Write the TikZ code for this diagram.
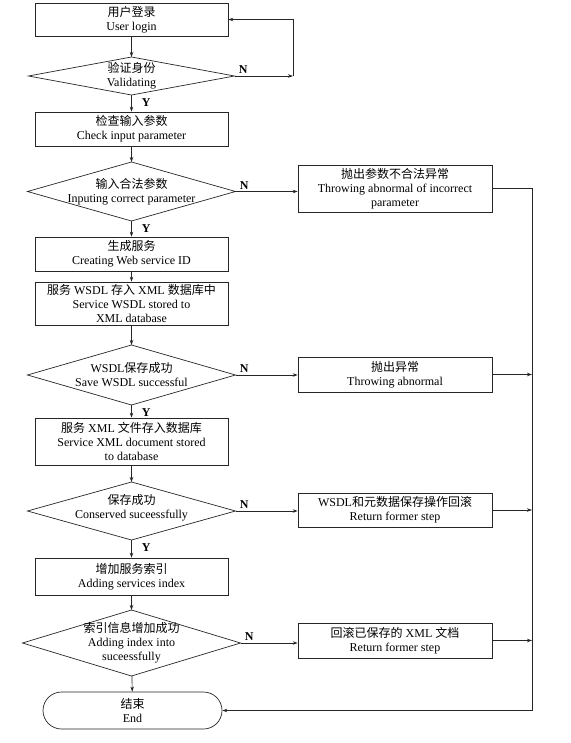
\documentclass[tikz,border=0pt]{standalone}
\usepackage{fontspec}
\setmainfont{Liberation Serif}
\newfontfamily\cjk{Noto Sans CJK SC}
\usetikzlibrary{shapes.geometric,shapes.misc,arrows.meta}
\begin{document}
\begin{tikzpicture}[x=1pt,y=-1pt,
  every node/.style={font=\fontsize{12}{14}\selectfont, text=black},
  ln/.style={draw=black!85, line width=0.7pt},
  arr/.style={ln, -{Stealth[length=5pt,width=3.5pt]}},
  proc/.style={ln, rectangle, align=center, inner sep=0pt, minimum width=193pt},
  sidebox/.style={ln, rectangle, align=center, inner sep=0pt, minimum width=194pt},
  dec/.style={ln, diamond, inner sep=0pt, outer sep=0pt},
  dtext/.style={align=center, inner sep=0pt, draw=none},
  yn/.style={font=\fontsize{12}{14}\selectfont\bfseries, inner sep=1pt},
  ylab/.style={yn, pos=0, anchor=north west, xshift=9pt, yshift=-2pt},
  nlab/.style={yn, pos=0, anchor=south west, xshift=3pt, yshift=1pt},
]
\useasboundingbox (0,0) rectangle (570,743);

% main column
\node[proc, minimum height=33pt] (b1) at (131.5,19.5) {{\cjk 用户登录}\\User login};
\node[dec, minimum width=206pt, minimum height=38pt,
  label={[dtext]center:{{\cjk 验证身份}\\Validating}}] (d1) at (131.5,76) {};
\node[proc, minimum height=34pt] (b2) at (131.5,129) {{\cjk 检查输入参数}\\Check input parameter};
\node[dec, minimum width=208pt, minimum height=59pt,
  label={[dtext]center:{{\cjk 输入合法参数}\\Inputing correct parameter}}] (d2) at (131.5,191.5) {};
\node[proc, minimum height=34pt] (b3) at (131.5,254) {{\cjk 生成服务}\\Creating Web service ID};
\node[proc, minimum height=43pt] (b4) at (131.5,303.5) {{\cjk 服务} WSDL {\cjk 存入} XML {\cjk 数据库中}\\Service WSDL stored to\\XML database};
\node[dec, minimum width=208pt, minimum height=60pt,
  label={[dtext]center:{WSDL{\cjk 保存成功}\\Save WSDL successful}}] (d3) at (131.5,375) {};
\node[proc, minimum height=47pt] (b5) at (131.5,441.5) {{\cjk 服务} XML {\cjk 文件存入数据库}\\Service XML document stored\\to database};
\node[dec, minimum width=208pt, minimum height=58pt,
  label={[dtext, yshift=3pt]center:{{\cjk 保存成功}\\Conserved suceessfully}}] (d4) at (131.5,511) {};
\node[proc, minimum height=37pt] (b6) at (131.5,576.5) {{\cjk 增加服务索引}\\Adding services index};
\node[dec, minimum width=218pt, minimum height=66pt,
  label={[dtext]center:{{\cjk 索引信息增加成功}\\Adding index into\\suceessfully}}] (d5) at (131.5,643) {};
\node[ln, rounded rectangle, minimum width=179pt, minimum height=37pt, inner sep=0pt, align=center] (endn) at (132.5,710.5) {{\cjk 结束}\\End};

% side column
\node[sidebox, minimum height=47pt] (r1) at (395,188.5) {{\cjk 抛出参数不合法异常}\\Throwing abnormal of incorrect\\parameter};
\node[sidebox, minimum height=35pt] (r2) at (395,374.5) {{\cjk 抛出异常}\\Throwing abnormal};
\node[sidebox, minimum height=34pt] (r3) at (395,510) {WSDL{\cjk 和元数据保存操作回滚}\\Return former step};
\node[sidebox, minimum height=35pt] (r4) at (395,640.5) {{\cjk 回滚已保存的} XML {\cjk 文档}\\Return former step};

\coordinate (c1) at (293,76);
\coordinate (rail) at (532,0);

% connectors
\draw[arr] (b1) -- (d1);
\draw[arr] (d1.east) -- (c1) node[nlab] {N};
\draw[arr] (c1) |- (b1.east);
\draw[arr] (d1) -- (b2) node[ylab] {Y};
\draw[arr] (b2) -- (d2);
\draw[arr] (d2.east) -- (d2.east -| r1.west) node[nlab] {N};
\draw[arr] (d2) -- (b3) node[ylab] {Y};
\draw[arr] (b3) -- (b4);
\draw[arr] (b4) -- (d3);
\draw[arr] (d3.east) -- (d3.east -| r2.west) node[nlab] {N};
\draw[arr] (d3) -- (b5) node[ylab] {Y};
\draw[arr] (b5) -- (d4);
\draw[arr] (d4.east) -- (d4.east -| r3.west) node[nlab] {N};
\draw[arr] (d4) -- (b6) node[ylab] {Y};
\draw[arr] (b6) -- (d5);
\draw[arr] (d5.east) -- (d5.east -| r4.west) node[nlab] {N};
\draw[arr] (d5) -- (endn);

\draw[arr] (r1.east) -| (rail |- endn.east) -- (endn.east);
\draw[arr] (r2.east) -- (r2.east -| rail);
\draw[arr] (r3.east) -- (r3.east -| rail);
\draw[arr] (r4.east) -- (r4.east -| rail);
\end{tikzpicture}
\end{document}
